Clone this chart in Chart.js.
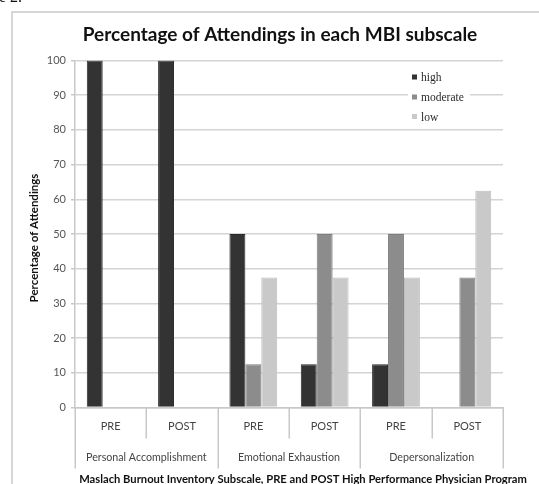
<!DOCTYPE html>
<html>
<head>
<meta charset="utf-8">
<script src="https://cdn.jsdelivr.net/npm/chart.js@4.4.1/dist/chart.umd.min.js"></script>
<style>
  html, body { margin: 0; padding: 0; background: #ffffff; }
  #wrap { position: relative; width: 539px; height: 484px; }
</style>
</head>
<body>
<div id="wrap"><canvas id="chart" width="539" height="484"></canvas></div>
<script>
// Phase of each measurement (x-axis categories)
const categories = ['PRE', 'POST', 'PRE', 'POST', 'PRE', 'POST'];
// MBI subscales, each spanning a PRE/POST pair
const subscales = ['Personal Accomplishment', 'Emotional Exhaustion', 'Depersonalization'];
// Percentage of attendings per burnout level
const highValues = [100, 100, 50, 12.5, 12.5, 0];
const moderateValues = [0, 0, 12.5, 50, 50, 37.5];
const lowValues = [0, 0, 37.5, 37.5, 37.5, 62.5];
const seriesNames = ['high', 'moderate', 'low'];
// Y axis range
const yMin = 0, yMax = 100, yStep = 10;

const chartTitle = 'Percentage of Attendings in each MBI subscale';
const yTitle = 'Percentage of Attendings';
const xTitle = 'Maslach Burnout Inventory Subscale, PRE and POST High Performance Physician Program';

const fills = ['#333333', '#8c8c8c', '#c9c9c9'];
const edges = ['#2a2a2a', '#7e7e7e', '#bdbdbd'];
const axisGray = '#c8c8c8';
const sans = 'Lato, "Open Sans", sans-serif';

// Title, axis texts, grouped category labels and the inset legend
const decorations = {
  id: 'decorations',
  afterDraw(chart) {
    const ctx = chart.ctx;
    const area = chart.chartArea;
    const x = chart.scales.x;
    const n = categories.length;
    const step = (area.right - area.left) / n;
    ctx.save();

    // outer frame
    ctx.strokeStyle = '#d6d6d6';
    ctx.lineWidth = 2;
    ctx.beginPath();
    ctx.moveTo(12, 490);
    ctx.lineTo(12, 12);
    ctx.lineTo(545, 12);
    ctx.stroke();

    // caption fragment above the frame
    ctx.fillStyle = '#111';
    ctx.font = '16px "Liberation Serif", serif';
    ctx.textAlign = 'right';
    ctx.textBaseline = 'alphabetic';
    ctx.fillText('ure 2.', 22, 2);

    // chart title
    ctx.fillStyle = '#111';
    ctx.font = 'bold 19px ' + sans;
    ctx.textAlign = 'center';
    ctx.textBaseline = 'middle';
    ctx.fillText(chartTitle, 280, 35);

    // category dividers below the axis
    ctx.strokeStyle = axisGray;
    ctx.lineWidth = 1.5;
    for (let i = 0; i <= n; i++) {
      const px = Math.round(area.left + i * step) + 0.25;
      const len = (i % 2 === 0) ? 61 : 31;
      ctx.beginPath();
      ctx.moveTo(px, area.bottom);
      ctx.lineTo(px, area.bottom + len);
      ctx.stroke();
    }

    // PRE / POST labels
    ctx.fillStyle = '#444';
    ctx.font = '11px ' + sans;
    categories.forEach((c, i) => {
      ctx.fillText(c, x.getPixelForValue(i), area.bottom + 19);
    });
    // subscale labels
    ctx.font = '10.7px ' + sans;
    subscales.forEach((s, g) => {
      const cx = (x.getPixelForValue(2 * g) + x.getPixelForValue(2 * g + 1)) / 2;
      ctx.fillText(s, cx, area.bottom + 50.5);
    });

    // axis titles
    ctx.fillStyle = '#111';
    ctx.font = 'bold 11.2px ' + sans;
    ctx.fillText(xTitle, 303, 479);
    ctx.save();
    ctx.translate(34, 238);
    ctx.rotate(-Math.PI / 2);
    ctx.font = 'bold 11.5px ' + sans;
    ctx.fillText(yTitle, 0, 0);
    ctx.restore();

    // legend
    ctx.fillStyle = '#ffffff';
    ctx.fillRect(408, 68, 62, 58);
    const rows = [77.5, 97.5, 117];
    ctx.font = '11.5px "Liberation Serif", "DejaVu Serif", serif';
    ctx.textAlign = 'left';
    seriesNames.forEach((name, i) => {
      ctx.fillStyle = fills[i];
      ctx.fillRect(412, rows[i] - 3, 5, 5);
      ctx.fillStyle = '#2b2b2b';
      ctx.fillText(name, 421, rows[i] + 0.5);
    });
    ctx.restore();
  }
};

new Chart(document.getElementById('chart'), {
  type: 'bar',
  data: {
    labels: categories,
    datasets: [highValues, moderateValues, lowValues].map((vals, i) => ({
      label: seriesNames[i],
      data: vals,
      backgroundColor: fills[i],
      borderColor: edges[i],
      borderWidth: 1,
      categoryPercentage: 0.67,
      barPercentage: 1.0
    }))
  },
  options: {
    responsive: false,
    devicePixelRatio: 1,
    animation: false,
    layout: { padding: { top: 60.5, left: 0, right: 36, bottom: 0 } },
    plugins: {
      legend: { display: false },
      title: { display: false },
      tooltip: { enabled: false }
    },
    scales: {
      x: {
        grid: { display: false },
        border: { display: true, color: axisGray, width: 1.5 },
        ticks: { display: false },
        afterFit(scale) { scale.height = 76.5; }
      },
      y: {
        min: yMin,
        max: yMax,
        ticks: {
          stepSize: yStep,
          color: '#555',
          font: { family: sans, size: 11 },
          padding: 5
        },
        grid: { color: '#d4d4d4', lineWidth: 1.5, tickLength: 4, tickColor: axisGray },
        border: { display: true, color: axisGray, width: 1.5 },
        afterFit(scale) { scale.width = 75; }
      }
    }
  },
  plugins: [decorations]
});
</script>
</body>
</html>
